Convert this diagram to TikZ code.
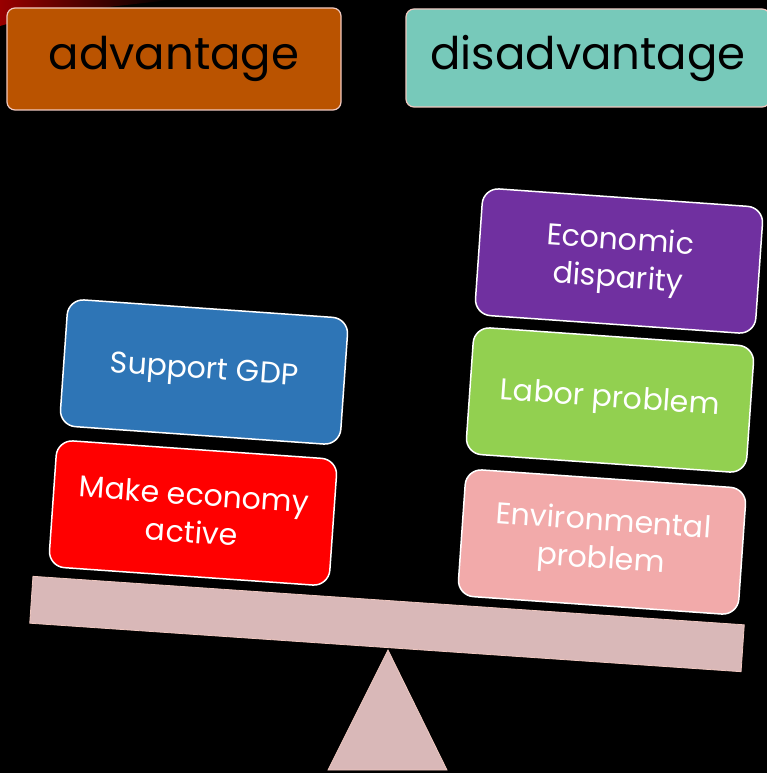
\documentclass[tikz,border=0pt]{standalone}
\usepackage{fontspec}
\setmainfont{Poppins}
\usetikzlibrary{positioning}

\definecolor{advcol}{HTML}{BA5300}
\definecolor{discol}{HTML}{77C9BA}
\definecolor{gdpcol}{HTML}{2E75B6}
\definecolor{actcol}{HTML}{FF0000}
\definecolor{gapcol}{HTML}{7030A0}
\definecolor{labcol}{HTML}{92D050}
\definecolor{envcol}{HTML}{F2AAAA}
\definecolor{beamcol}{HTML}{D9B8B8}
\definecolor{rimcol}{HTML}{F0C8C0}

\begin{document}
\begin{tikzpicture}[x=1pt,y=-1pt]
\tikzstyle{header}=[draw=rimcol,line width=1.2pt,rounded corners=8pt,text=black,font=\fontsize{45}{50}\selectfont]
\tikzstyle{weight}=[draw=white,line width=1.5pt,rounded corners=16pt,text=white,align=center,
  minimum width=281pt,minimum height=127pt,rotate=-4,font=\fontsize{30}{38}\selectfont]

\fill[black] (0,0) rectangle (767,773);
\useasboundingbox (0,0) rectangle (767,773);
% red swoosh in the corner
\shade[left color=red!60!black,right color=black] (0,0) -- (170,0) .. controls (100,8) and (40,14) .. (0,26) -- cycle;

% the two headings
\node[header,fill=advcol,minimum width=334pt,minimum height=102pt] (adv) at (174,59) {advantage};
\node[header,fill=discol,minimum width=364pt,minimum height=98pt] (dis) at (588,58) {disadvantage};

% seesaw
\node[fill=beamcol,draw=rimcol,line width=0.8pt,minimum width=713pt,minimum height=47pt,rotate=-3.9,inner sep=0pt] (beam) at (387,624) {};
\coordinate (pivot) at (388,650);
\filldraw[fill=beamcol,draw=rimcol,line width=0.8pt] (pivot) -- (447,770) -- (328,770) -- cycle;

% left pan
\node[weight,fill=actcol] (act) at (193,513) {Make economy\\active};
\node[weight,fill=gdpcol] (gdp) at (204,372) {Support GDP};

% right pan
\node[weight,fill=envcol] (env) at (602,542) {Environmental\\problem};
\node[weight,fill=labcol] (lab) at (610,400) {Labor problem};
\node[weight,fill=gapcol] (gap) at (619,261) {Economic\\disparity};
\end{tikzpicture}
\end{document}
